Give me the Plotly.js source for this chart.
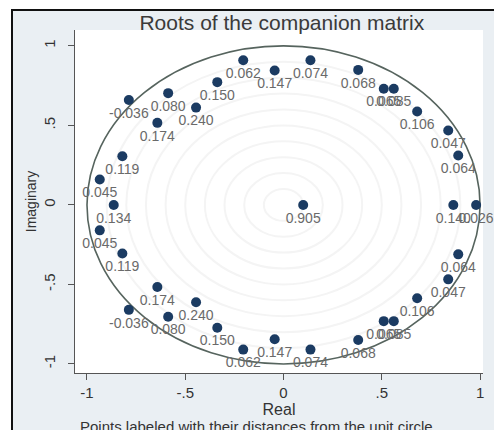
<!DOCTYPE html>
<html>
<head>
<meta charset="utf-8">
<script src="https://cdn.plot.ly/plotly-3.0.1.min.js"></script>
<style>
  html, body { margin: 0; padding: 0; background: #ffffff; width: 494px; height: 430px; overflow: hidden; }
  #frame { position: absolute; left: 11px; top: 9px; width: 483px; height: 421px;
           border-top: 2px solid #111; border-left: 2px solid #111; background: #eaeff3; overflow: hidden; }
  #chart { position: absolute; left: 0; top: 0; width: 481px; height: 419px; }
</style>
</head>
<body>
<div id="frame"><div id="chart"></div></div>
<script>
// Roots of the companion matrix: real parts, imaginary parts, labels (distance from unit circle)
const realPart = [
  -0.205, -0.045, -0.337, -0.587, -0.787, -0.445, -0.642, -0.820, -0.935,
   0.137,  0.380,  0.510,  0.561,  0.680,  0.838,  0.889,
  -0.205, -0.045, -0.337, -0.587, -0.787, -0.445, -0.642, -0.820, -0.935,
   0.137,  0.380,  0.510,  0.561,  0.680,  0.838,  0.889,
  -0.864,  0.100,  0.864,  0.980
];
const imagPart = [
   0.910,  0.845,  0.772,  0.703,  0.660,  0.612,  0.516,  0.306,  0.160,
   0.910,  0.849,  0.731,  0.731,  0.587,  0.468,  0.311,
  -0.910, -0.845, -0.772, -0.703, -0.660, -0.612, -0.516, -0.306, -0.160,
  -0.910, -0.849, -0.731, -0.731, -0.587, -0.468, -0.311,
   0.000,  0.000,  0.000,  0.000
];
const distLabels = [
  "0.062", "0.147", "0.150", "0.080", "-0.036", "0.240", "0.174", "0.119", "0.045",
  "0.074", "0.068", "0.065", "0.085", "0.106", "0.047", "0.064",
  "0.062", "0.147", "0.150", "0.080", "-0.036", "0.240", "0.174", "0.119", "0.045",
  "0.074", "0.068", "0.065", "0.085", "0.106", "0.047", "0.064",
  "0.134", "0.905", "0.140", "0.026"
];
const xTickVals = [-1, -0.5, 0, 0.5, 1];
const xTickText = ["-1", "-.5", "0", ".5", "1"];
const yTickVals = [-1, -0.5, 0, 0.5, 1];
const yTickText = ["-1", "-.5", "0", ".5", "1"];
const ringRadii = [0.1, 0.2, 0.3, 0.4, 0.5, 0.6, 0.7, 0.8, 0.9];

const FONT = "Liberation Sans, Arial, Helvetica, sans-serif";

const shapes = ringRadii.map(r => ({
  type: "circle", xref: "x", yref: "y", x0: -r, x1: r, y0: -r, y1: r,
  line: { color: "#f4f4f4", width: 2 }, layer: "below"
}));
shapes.push({
  type: "circle", xref: "x", yref: "y", x0: -1, x1: 1, y0: -1, y1: 1,
  line: { color: "#56645e", width: 1.6 }, layer: "below"
});

const trace = {
  type: "scatter",
  mode: "markers+text",
  x: realPart,
  y: imagPart,
  text: distLabels,
  textposition: "bottom center",
  textfont: { family: FONT, size: 14, color: "#6a6a6a" },
  marker: { color: "#1b3b62", size: 10, line: { width: 0 } },
  cliponaxis: false,
  hoverinfo: "skip"
};

const layout = {
  width: 481, height: 419,
  margin: { l: 62, r: 11, t: 19, b: 57 },
  paper_bgcolor: "#eaeff3",
  plot_bgcolor: "#ffffff",
  showlegend: false,
  font: { family: FONT, color: "#333333" },
  title: {
    text: "Roots of the companion matrix",
    font: { family: FONT, size: 21, color: "#3a3a3a" },
    xref: "paper", x: 0.507, xanchor: "center",
    yref: "container", y: 0.972, yanchor: "middle"
  },
  xaxis: {
    range: [-1.061, 1.015],
    tickvals: xTickVals, ticktext: xTickText,
    ticks: "outside", ticklen: 6, tickcolor: "#555555", tickwidth: 1,
    showline: true, linecolor: "#555555", linewidth: 1,
    showgrid: false, zeroline: false,
    tickfont: { family: FONT, size: 15, color: "#333333" },
    title: { text: "Real", font: { family: FONT, size: 16, color: "#333333" }, standoff: 2 },
    automargin: false
  },
  yaxis: {
    range: [-1.057, 1.10],
    tickvals: yTickVals, ticktext: yTickText,
    tickangle: -90,
    ticks: "outside", ticklen: 6, tickcolor: "#555555", tickwidth: 1,
    ticklabelstandoff: 7,
    showline: true, linecolor: "#555555", linewidth: 1,
    showgrid: false, zeroline: false,
    tickfont: { family: FONT, size: 15, color: "#333333" },
    title: { text: "Imaginary", font: { family: FONT, size: 14, color: "#333333" }, standoff: 1 },
    automargin: false
  },
  shapes: shapes,
  annotations: [{
    text: "Points labeled with their distances from the unit circle",
    xref: "paper", yref: "paper", x: 0.007, y: -0.157,
    xanchor: "left", yanchor: "middle", showarrow: false,
    font: { family: FONT, size: 15, color: "#333333" }
  }]
};

Plotly.newPlot("chart", [trace], layout, { staticPlot: true, displayModeBar: false });
</script>
</body>
</html>
